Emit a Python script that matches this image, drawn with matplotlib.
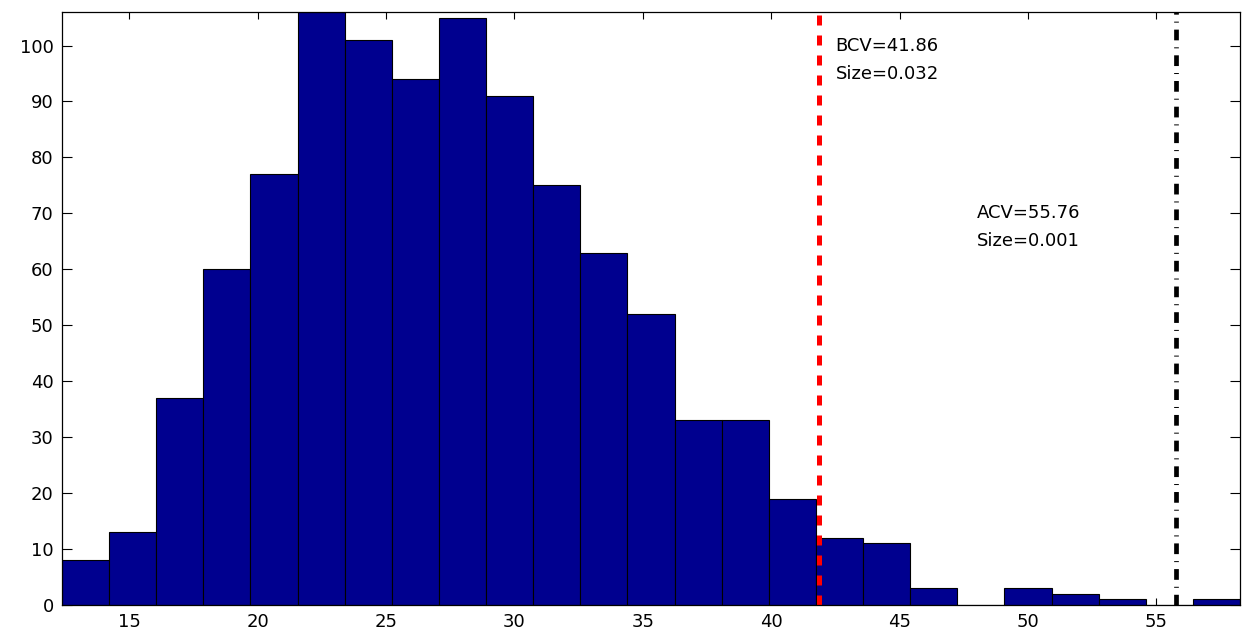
import numpy as np
import matplotlib.pyplot as plt

# histogram of the simulated statistic (25 equal bins over the data range)
counts = [8, 13, 37, 60, 77, 106, 101, 94, 105, 91, 75, 63, 52,
          33, 33, 19, 12, 11, 3, 0, 3, 2, 1, 0, 1]
data_min = 12.38
data_max = 58.26

bcv = 41.86
bcv_size = 0.032
acv = 55.76
acv_size = 0.001

xticks = [15, 20, 25, 30, 35, 40, 45, 50, 55]
yticks = [0, 10, 20, 30, 40, 50, 60, 70, 80, 90, 100]

plt.rcParams['font.family'] = ['DejaVu Sans']

edges = np.linspace(data_min, data_max, len(counts) + 1)

fig = plt.figure(figsize=(12.47, 6.30), dpi=100)
ax = fig.add_axes([0.0497, 0.0397, 0.9447, 0.9413])

ax.bar(edges[:-1], counts, width=np.diff(edges), align='edge',
       color='#00008f', edgecolor='black', linewidth=0.8, zorder=2)

# critical values
red = ax.axvline(bcv, color='#ff0000', linewidth=3.6, zorder=3)
red.set_dashes([2.0, 2.0])
blk = ax.axvline(acv, color='black', linewidth=3.4, zorder=3)
blk.set_dashes([2.27, 1.48, 0.21, 1.48])

fs = 13
ax.text(bcv + 0.65, 100, 'BCV=%.2f' % bcv, fontsize=fs, va='center')
ax.text(bcv + 0.65, 95, 'Size=%.3f' % bcv_size, fontsize=fs, va='center')
ax.text(acv - 7.75, 70, 'ACV=%.2f' % acv, fontsize=fs, va='center')
ax.text(acv - 7.75, 65, 'Size=%.3f' % acv_size, fontsize=fs, va='center')

ax.set_xlim(data_min, data_max)
ax.set_ylim(0, max(counts))
ax.set_xticks(xticks)
ax.set_yticks(yticks)
ax.tick_params(axis='both', direction='in', top=True, right=True,
               labelsize=fs, width=0.8, colors='black')
ax.tick_params(axis='x', length=5, pad=6)
ax.tick_params(axis='y', length=7.5, pad=6)
for s in ax.spines.values():
    s.set_linewidth(0.9)
    s.set_zorder(4)

fig.savefig('out.png', dpi=100)
